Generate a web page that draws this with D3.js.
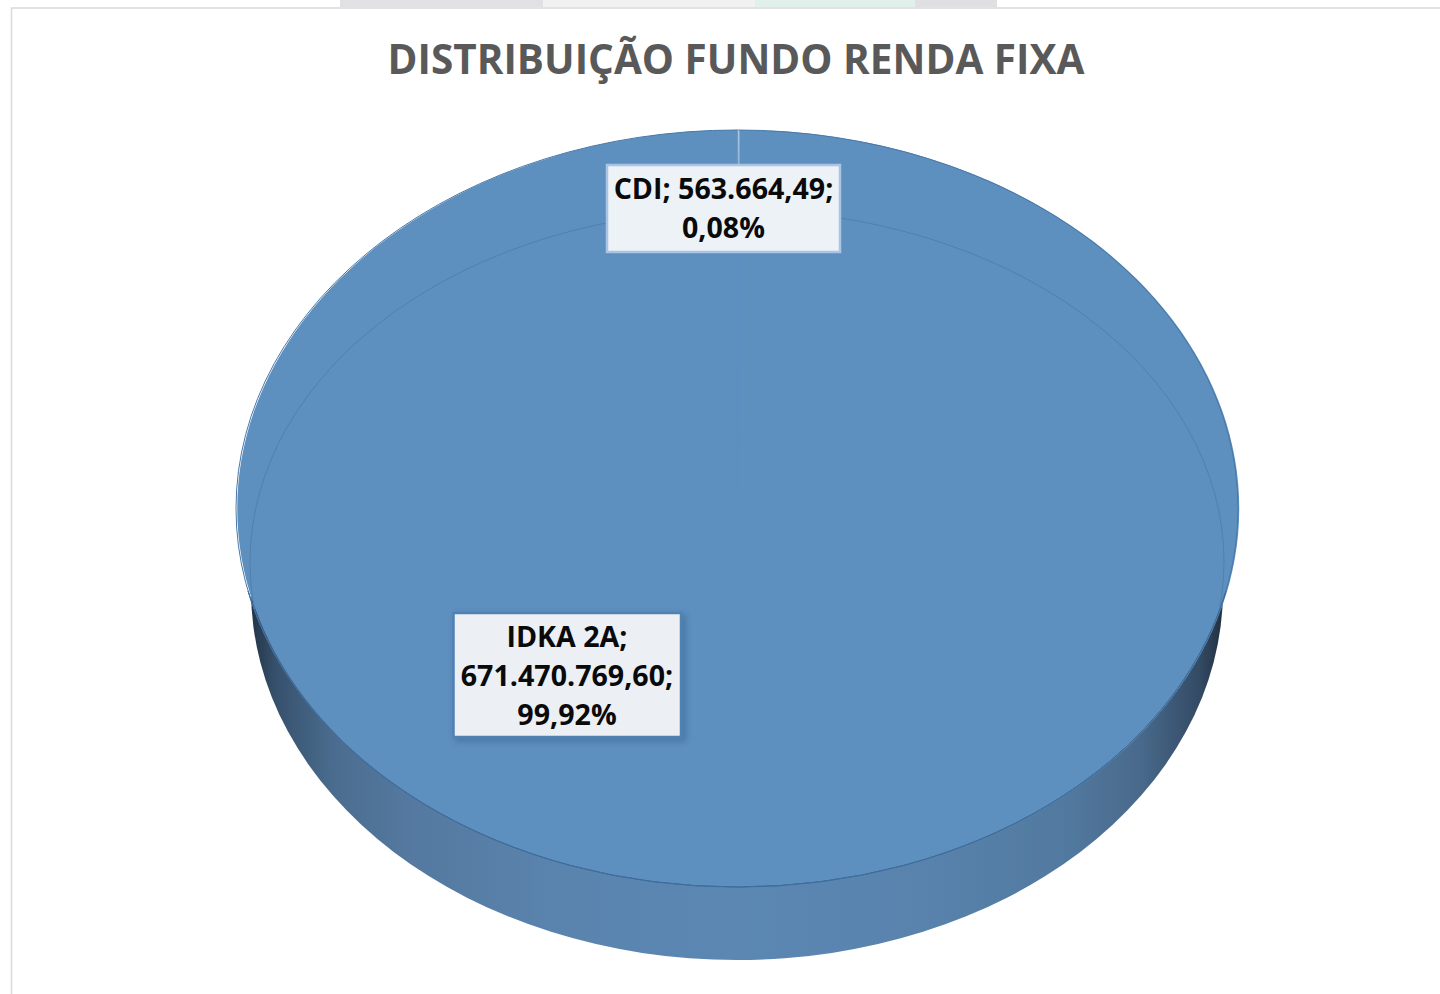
<!DOCTYPE html>
<html><head><meta charset="utf-8">
<script src="https://cdn.jsdelivr.net/npm/d3@7"></script>
<style>html,body{margin:0;padding:0;background:#fff;overflow:hidden}svg{display:block}</style>
</head><body><div id="c"></div>
<script>
const title = "DISTRIBUIÇÃO FUNDO RENDA FIXA";
const categories = ["CDI", "IDKA 2A"];
const values = [563664.49, 671470769.60];
const valueLabels = ["563.664,49", "671.470.769,60"];
const percentLabels = ["0,08%", "99,92%"];

const W = 1440, H = 994;
const cx = 737, cy = 508.5, rx = 501, ry = 378.5;
const svg = d3.select("#c").append("svg").attr("width", W).attr("height", H).attr("font-family", '"Open Sans", sans-serif');
const defs = svg.append("defs");

const side = defs.append("linearGradient").attr("id", "side").attr("gradientUnits","userSpaceOnUse")
  .attr("x1", 245).attr("x2", 1230).attr("y1", 0).attr("y2", 0);
[[0,"#1f2d3d"],[0.03,"#36506c"],[0.09,"#4a6d8f"],[0.17,"#5579a0"],[0.32,"#5a84ae"],[0.5,"#5b87b3"],[0.68,"#5983ad"],[0.83,"#527aa0"],[0.91,"#49698b"],[0.97,"#334a64"],[1,"#1c2734"]]
  .forEach(s => side.append("stop").attr("offset", s[0]).attr("stop-color", s[1]));
const sliceGrad = defs.append("linearGradient").attr("id","cdi").attr("gradientUnits","userSpaceOnUse")
  .attr("x1",0).attr("x2",0).attr("y1",130).attr("y2",470);
[[0,"#dfe9f4",0.75],[0.1,"#b9cde3",0.75],[0.3,"#5f92d0",0.7],[0.8,"#5b8fcb",0.6],[1,"#5b8fc4",0.1]]
  .forEach(s => sliceGrad.append("stop").attr("offset", s[0]).attr("stop-color", s[1]).attr("stop-opacity", s[2]));
const blur = defs.append("filter").attr("id","shadow").attr("x","-10%").attr("y","-10%").attr("width","125%").attr("height","130%");
blur.append("feDropShadow").attr("dx",3).attr("dy",3).attr("stdDeviation",3).attr("flood-color","#1f3f60").attr("flood-opacity",0.35);
defs.append("clipPath").attr("id","topClip").append("ellipse").attr("cx",cx).attr("cy",cy).attr("rx",rx).attr("ry",ry);

// outer frame and the sliver of page above it
const strip = [[340,543,"#e1e1e3"],[543,755,"#f1f1f1"],[755,915,"#e0f1ec"],[915,997,"#e0e0e2"]];
svg.selectAll(".strip").data(strip).join("rect").attr("x",d=>d[0]).attr("y",0).attr("width",d=>d[1]-d[0]).attr("height",7).attr("fill",d=>d[2]);
svg.append("path").attr("d",`M11.5 ${H}V8H${W}`).attr("fill","none").attr("stroke","#d9d9d9").attr("stroke-width",1.5);

const pie = d3.pie().sort(null)(values);
const unit = d3.arc().innerRadius(0).outerRadius(1);

// cylinder wall (lower, narrower rim)
svg.append("ellipse").attr("cx",cx).attr("cy",590).attr("rx",486).attr("ry",370).attr("fill","url(#side)");

// top face
const face = svg.append("g").attr("transform",`translate(${cx},${cy}) scale(${rx},${ry})`);
face.selectAll("path").data(pie).join("path").attr("d",unit).attr("fill","#5d8fbf");
svg.append("ellipse").attr("cx",cx).attr("cy",cy).attr("rx",rx).attr("ry",ry).attr("fill","none").attr("stroke","#4878a8").attr("stroke-width",1);

// bevel line
svg.append("g").attr("clip-path","url(#topClip)").append("ellipse")
  .attr("cx",cx).attr("cy",562).attr("rx",487).attr("ry",352).attr("fill","none").attr("stroke","#4f80b0").attr("stroke-width",1);
// front rim edge
svg.append("path").attr("d",d3.arc().innerRadius(rx).outerRadius(rx).startAngle(Math.PI/2+0.22).endAngle(3*Math.PI/2-0.22)())
  .attr("transform",`translate(${cx},${cy}) scale(1,${ry/rx})`).attr("fill","none").attr("stroke","#3f6d9c").attr("stroke-width",1);

// boundary of the thin CDI slice, at the middle of its angle
const mid = (pie[0].startAngle + pie[0].endAngle) / 2;
const lineX = cx + rx * Math.sin(mid);
svg.append("line").attr("x1",lineX).attr("x2",lineX+0.01).attr("y1",cy-ry).attr("y2",470)
  .attr("stroke","url(#cdi)").attr("stroke-width",1);

// data labels
const boxes = [
  {x:607,y:165,w:233,h:87,lines:[`${categories[0]}; ${valueLabels[0]};`,percentLabels[0]],cx:723.5,first:199,stroke:"#a9c4e4",shadow:false},
  {x:453.5,y:613,w:227.5,h:124,lines:[`${categories[1]};`,`${valueLabels[1]};`,percentLabels[1]],cx:567,first:647,stroke:"#4f81b3",shadow:true}
];
const lab = svg.selectAll(".lab").data(boxes).join("g");
lab.append("rect").attr("x",d=>d.x).attr("y",d=>d.y).attr("width",d=>d.w).attr("height",d=>d.h)
  .attr("fill",(d,i)=>i?"#ecf0f5":"#edf2f7").attr("stroke",d=>d.stroke).attr("stroke-width",2.5)
  .attr("filter",d=>d.shadow?"url(#shadow)":null);
lab.each(function(d){
  d3.select(this).selectAll("text").data(d.lines).join("text")
    .attr("x",d.cx).attr("y",(l,i)=>d.first+i*39).attr("text-anchor","middle")
    .attr("font-size",28.6).attr("font-weight",700).attr("fill","#0a0a0a").text(l=>l);
});

svg.append("text").attr("x",736).attr("y",74).attr("text-anchor","middle").attr("font-size",40.5).attr("font-weight",700)
  .attr("fill","#595959").text(title);
</script></body></html>
